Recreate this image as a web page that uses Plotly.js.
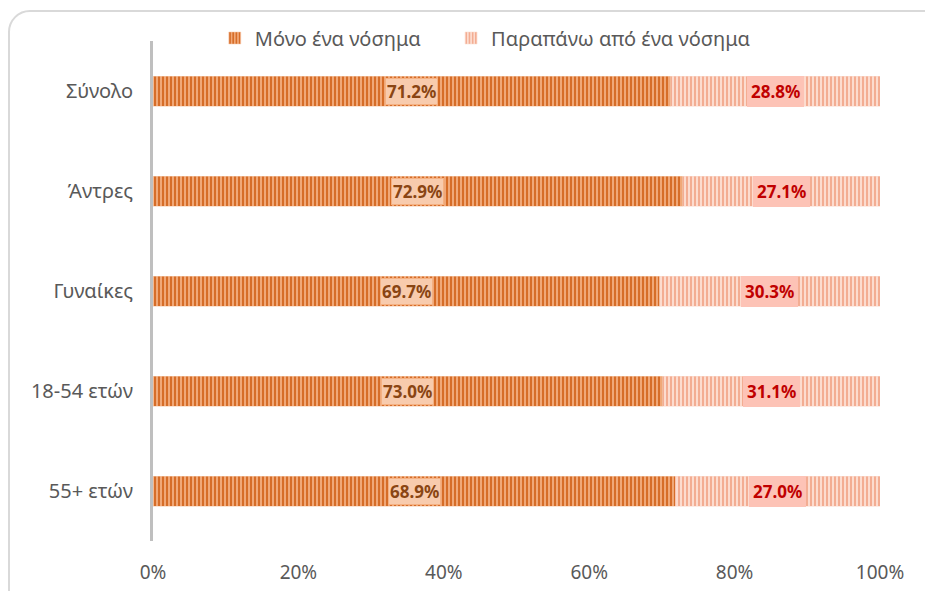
<!DOCTYPE html>
<html>
<head>
<meta charset="utf-8">
<script src="https://cdn.plot.ly/plotly-3.0.1.min.js"></script>
<style>
  html, body { margin: 0; padding: 0; background: #ffffff; }
  #wrap { position: relative; width: 925px; height: 591px; overflow: hidden; }
  #frame { position: absolute; left: 8px; top: 10px; width: 960px; height: 640px;
           border: 2px solid #d9d9d9; border-radius: 22px; box-sizing: border-box; }
  #chart { position: absolute; left: 0; top: 0; width: 925px; height: 591px; }
</style>
</head>
<body>
<div id="wrap">
  <div id="frame"></div>
  <div id="chart"></div>
</div>
<script>
const categories = ['Σύνολο', 'Άντρες', 'Γυναίκες', '18-54 ετών', '55+ ετών'];
const seriesNames = ['Μόνο ένα νόσημα', 'Παραπάνω από ένα νόσημα'];
const onlyOne = [71.2, 72.9, 69.7, 73.0, 68.9];
const moreThanOne = [28.8, 27.1, 30.3, 31.1, 27.0];
const xTickVals = [0, 20, 40, 60, 80, 100];
const xTickText = ['0%', '20%', '40%', '60%', '80%', '100%'];

const FONT = 'Noto Sans, Open Sans, sans-serif';

const fmt = v => v.toFixed(1) + '%';

const trace1 = {
  type: 'bar', orientation: 'h', name: seriesNames[0], legend: 'legend',
  y: categories, x: onlyOne,
  marker: {
    color: '#eea271',
    line: { color: '#f6c9aa', width: 0.5 },
    pattern: { shape: '|', fgcolor: '#d3661f', bgcolor: '#f0a878', size: 4, solidity: 0.45, fillmode: 'replace' }
  },
  hoverinfo: 'skip'
};
const trace2 = {
  type: 'bar', orientation: 'h', name: seriesNames[1], legend: 'legend2',
  y: categories, x: moreThanOne,
  marker: {
    color: '#f8c3ad',
    line: { color: '#fbd8ca', width: 0.5 },
    pattern: { shape: '|', fgcolor: '#f3a88c', bgcolor: '#fcdccf', size: 4, solidity: 0.45, fillmode: 'replace' }
  },
  hoverinfo: 'skip'
};

// labels: centered in each normalised segment
const annotations = [];
categories.forEach((c, i) => {
  const tot = onlyOne[i] + moreThanOne[i];
  const p1 = onlyOne[i] / tot * 100;
  annotations.push({
    x: p1 / 2, y: c, xref: 'x', yref: 'y', text: '<b>' + fmt(onlyOne[i]) + '</b>',
    showarrow: false, bgcolor: '#f8cbad', bordercolor: '#f4b183', borderwidth: 1, borderpad: 1,
    font: { family: FONT, size: 17, color: '#8a4513' }
  });
  annotations.push({
    x: p1 + (100 - p1) / 2, y: c, xref: 'x', yref: 'y', text: '<b>' + fmt(moreThanOne[i]) + '</b>',
    showarrow: false, bgcolor: '#fdc3b6', bordercolor: '#fdc3b6', borderwidth: 1, borderpad: 3,
    font: { family: FONT, size: 17, color: '#c00000' }
  });
});

const legendFont = { family: FONT, size: 20, color: '#595959' };

const layout = {
  width: 925, height: 591,
  paper_bgcolor: 'rgba(0,0,0,0)', plot_bgcolor: 'rgba(0,0,0,0)',
  margin: { l: 153, r: 45, t: 41, b: 50 },
  barmode: 'stack', barnorm: 'percent', bargap: 0.7,
  font: { family: FONT, size: 19, color: '#595959' },
  showlegend: true,
  legend: {
    orientation: 'h', x: 0.085, xanchor: 'left', y: 1.006, yanchor: 'middle',
    font: legendFont, bgcolor: 'rgba(0,0,0,0)'
  },
  legend2: {
    orientation: 'h', x: 0.41, xanchor: 'left', y: 1.006, yanchor: 'middle',
    font: legendFont, bgcolor: 'rgba(0,0,0,0)'
  },
  xaxis: {
    range: [0, 100], tickvals: xTickVals, ticktext: xTickText,
    showgrid: false, zeroline: false, showline: false, ticks: '',
    ticklabelstandoff: 18, fixedrange: true,
    tickfont: { family: FONT, size: 19, color: '#595959' }
  },
  yaxis: {
    autorange: 'reversed', showgrid: false, zeroline: false,
    showline: true, linecolor: '#bfbfbf', linewidth: 3, ticks: '',
    ticklabelstandoff: 13, fixedrange: true,
    tickfont: { family: FONT, size: 20, color: '#595959' }
  },
  annotations: annotations
};

Plotly.newPlot('chart', [trace1, trace2], layout, { displayModeBar: false, staticPlot: true });
</script>
</body>
</html>
